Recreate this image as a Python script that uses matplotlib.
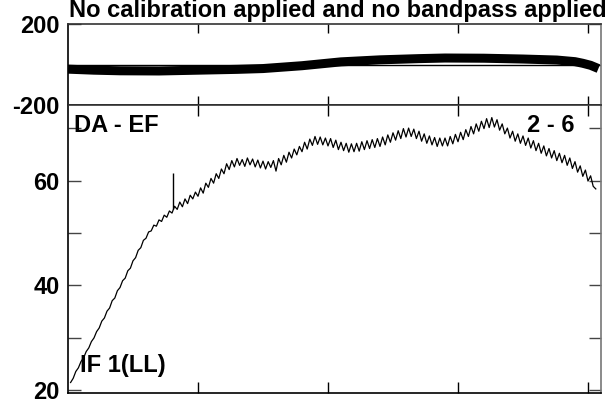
import numpy as np
import matplotlib
matplotlib.use("Agg")
import matplotlib.pyplot as plt

plt.rcParams['font.family'] = ['Liberation Sans', 'DejaVu Sans']
plt.rcParams['font.weight'] = 'bold'

# bottom panel: amplitude per channel (every 2nd channel)
amp_ch = np.arange(2, 407, 2)
amp = [21.5, 22.3, 23.6, 24.3, 25.5, 26.2, 27.4, 28.1, 29.3, 30.0,
       31.2, 31.9, 33.2, 33.8, 35.1, 35.7, 37.1, 37.6, 39.0, 39.6,
       40.9, 41.4, 42.8, 43.3, 44.7, 45.3, 46.7, 47.2, 48.6, 49.0,
       50.2, 50.4, 51.5, 51.3, 52.5, 52.2, 53.4, 53.0, 54.2, 53.8,
       55.1, 54.5, 55.9, 55.0, 56.5, 55.6, 57.2, 56.5, 57.8, 57.0,
       58.6, 57.6, 59.5, 58.7, 60.4, 59.5, 61.3, 60.4, 62.2, 61.3,
       63.2, 62.1, 63.8, 62.6, 64.2, 62.9, 64.0, 62.7, 64.3, 63.0,
       64.1, 62.6, 63.9, 62.4, 63.7, 62.2, 63.6, 62.5, 63.8, 61.8,
       64.2, 63.0, 64.8, 63.5, 65.4, 64.3, 66.0, 64.9, 66.5, 65.5,
       67.3, 66.0, 67.9, 66.7, 68.4, 66.9, 68.3, 66.8, 68.1, 66.6,
       68.0, 66.3, 67.7, 65.9, 67.3, 65.7, 67.1, 65.4, 67.0, 65.5,
       67.1, 65.6, 67.4, 65.9, 67.6, 66.1, 67.8, 66.3, 68.0, 66.5,
       68.3, 66.8, 68.7, 67.3, 69.1, 67.7, 69.5, 68.0, 69.9, 68.3,
       70.0, 68.4, 69.8, 68.0, 69.4, 67.5, 68.9, 67.1, 68.5, 66.8,
       68.2, 66.5, 68.1, 66.6, 68.1, 66.6, 68.4, 67.0, 68.8, 67.4,
       69.2, 67.8, 69.7, 68.4, 70.3, 68.9, 70.8, 69.4, 71.3, 69.9,
       71.8, 70.1, 72.0, 70.2, 71.6, 69.6, 70.8, 68.9, 70.0, 68.1,
       69.4, 67.5, 68.9, 67.1, 68.5, 66.7, 68.1, 66.2, 67.6, 65.7,
       67.1, 65.2, 66.6, 64.7, 66.1, 64.3, 65.7, 63.8, 65.2, 63.4,
       64.8, 62.9, 64.3, 62.3, 63.6, 61.6, 62.8, 60.8, 62.0, 59.9,
       60.9, 58.9, 58.4]
spike_ch = [81]
spike_lo = [54.5]
spike_hi = [61.4]

# top panel: phase per channel
ph_ch = [0, 20, 40, 70, 100, 130, 150, 180, 210, 240, 270, 290, 320, 350, 376, 390, 396, 402, 408]
ph_deg = [-23, -28, -31, -32, -28, -24, -20, -6, 13, 23, 29, 32, 31, 27, 22, 14, 6, -4, -20]

W, H = 606, 405
fig = plt.figure(figsize=(W / 100, H / 100), dpi=100)

left = 68 / W
width = (601 - 68) / W
ax1 = fig.add_axes([left, 1 - 105 / H, width, 81 / H])
ax2 = fig.add_axes([left, 1 - 393 / H, width, 288 / H])

ax1.axhline(0, color='black', lw=1)
ax1.plot(ph_ch, ph_deg, color='black', lw=6.5, solid_capstyle='butt')
ax1.set_ylim(-200, 200)
ax1.set_yticks([-200, 200])
ax1.set_yticklabels(['-200', '200'])

ax2.plot(amp_ch, amp, color='black', lw=0.9)
ax2.vlines(spike_ch, spike_lo, spike_hi, color='black', lw=1.0)
ax2.set_ylim(19.5, 74.4)
ax2.set_yticks([20, 40, 60])
ax2.set_yticks([30, 50, 70], minor=True)

for ax, tl in ((ax1, 6.5), (ax2, 8)):
    ax.set_xlim(0, 410)
    ax.set_xticks([100, 200, 300, 400])
    ax.set_xticklabels([])
    ax.tick_params(axis='x', which='both', direction='in', top=True, bottom=True,
                   length=tl, width=1, color='black')
    ax.tick_params(axis='y', which='both', direction='in', left=True, right=True,
                   length=9, width=1, color='#444444', labelsize=17, pad=6)
    for lbl in ax.get_yticklabels():
        lbl.set_fontweight('bold')
    ax.spines['left'].set_color('black')
    ax.spines['bottom'].set_color('black')
    ax.spines['top'].set_color('#333333')
    ax.spines['right'].set_color('#777777')
    for s in ax.spines.values():
        s.set_linewidth(1.2)

fig.text(69 / W, 1 - 17 / H, 'No calibration applied and no bandpass applied',
         fontsize=17, fontweight='bold', va='baseline', ha='left')
fig.text(74 / W, 1 - 132 / H, 'DA - EF', fontsize=17, fontweight='bold', va='baseline')
fig.text(527 / W, 1 - 132 / H, '2 - 6', fontsize=17, fontweight='bold', va='baseline')
fig.text(80 / W, 1 - 372 / H, 'IF 1(LL)', fontsize=17, fontweight='bold', va='baseline')

fig.savefig('out.png', dpi=100)
